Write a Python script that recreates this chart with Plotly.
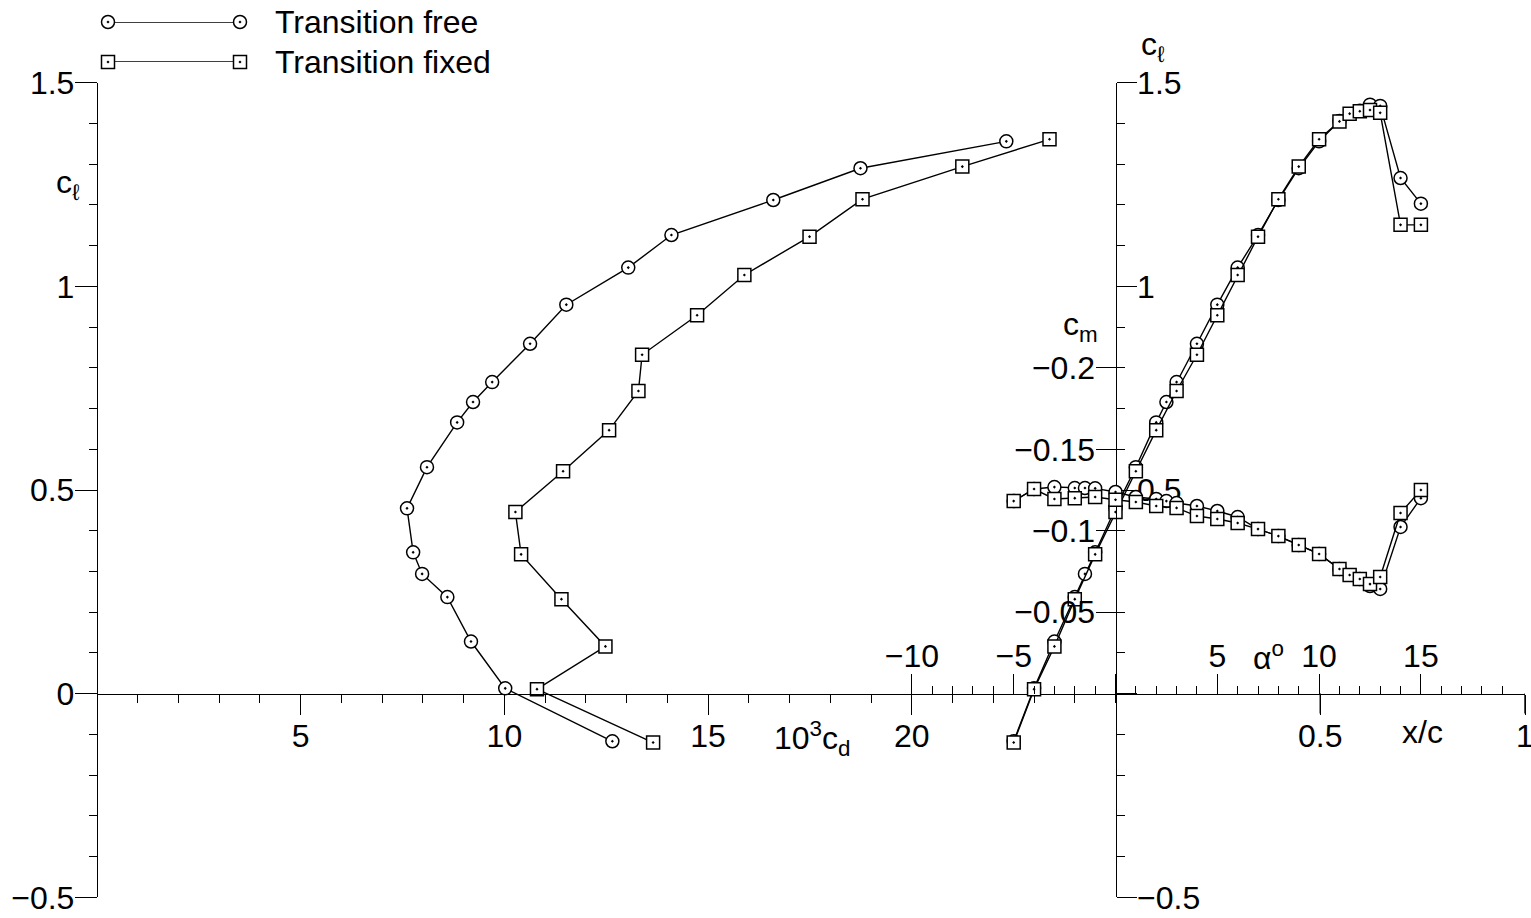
import plotly.graph_objects as go

# ---- measured section data -------------------------------------------------
# Transition free (natural transition)
alpha_free = [-5, -4, -3, -2, -1.5, -1, 0, 1, 2, 2.5, 3, 4, 5, 6, 7, 8, 9, 10,
              11, 12, 12.5, 13, 14, 15]
cl_free = [-0.117, 0.013, 0.128, 0.237, 0.294, 0.347, 0.455, 0.556, 0.666, 0.716,
           0.765, 0.859, 0.955, 1.046, 1.126, 1.212, 1.290, 1.356,
           1.406, 1.431, 1.446, 1.443, 1.266, 1.203]
cm_free = [-0.1182, -0.1256, -0.1268, -0.1262, -0.1262, -0.1260, -0.1238, -0.1207,
           -0.1195, -0.1182, -0.1170, -0.1152, -0.1121, -0.1084, -0.1010, -0.0967,
           -0.0912, -0.0857, -0.0765, -0.0703, -0.0660, -0.0642, -0.1023, -0.1200]
# drag polar (10^3 cd) measured for alpha = -5 ... 10
cd_free = [12.65, 10.02, 9.18, 8.60, 7.98, 7.76, 7.61, 8.10, 8.84, 9.23,
           9.70, 10.63, 11.52, 13.04, 14.10, 16.60, 18.74, 22.32]

# Transition fixed (trip strip)
alpha_fixed = [-5, -4, -3, -2, -1, 0, 1, 2, 3, 4, 5, 6, 7, 8, 9, 10,
               11, 11.5, 12, 12.5, 13, 14, 15]
cl_fixed = [-0.120, 0.011, 0.116, 0.232, 0.342, 0.446, 0.546, 0.647, 0.743, 0.832,
            0.929, 1.028, 1.122, 1.214, 1.294, 1.361,
            1.405, 1.424, 1.430, 1.433, 1.426, 1.151, 1.151]
cm_fixed = [-0.1182, -0.1256, -0.1195, -0.1200, -0.1207, -0.1190, -0.1176, -0.1152,
            -0.1140, -0.1090, -0.1072, -0.1047, -0.1010, -0.0967, -0.0912, -0.0857,
            -0.0765, -0.0728, -0.0703, -0.0672, -0.0716, -0.1109, -0.1250]
cd_fixed = [13.65, 10.80, 12.48, 11.40, 10.41, 10.27, 11.44, 12.57, 13.29, 13.38,
            14.73, 15.89, 17.49, 18.79, 21.24, 23.38]

# ---- axis tick labels ------------------------------------------------------
cl_ticks = [-0.5, 0, 0.5, 1, 1.5]
cl_left_text = ["\u22120.5", "0", "0.5", "1", "1.5"]
cl_right_text = ["\u22120.5", "", "0.5", "1", "1.5"]
cd_ticks = [5, 10, 15, 20]
cd_text = ["5", "10", "15", "20"]
alpha_ticks = [-10, -5, 0, 5, 10, 15]
alpha_text = ["\u221210", "\u22125", "", "5", "10", "15"]
cm_ticks = [-0.2, -0.15, -0.1, -0.05]
cm_text = ["\u22120.2", "\u22120.15", "\u22120.1", "\u22120.05"]
xc_ticks = [0.5, 1]
xc_text = ["0.5", "1"]

W, H = 1531, 918
FONT = "Liberation Sans, Arial, sans-serif"
FS = 32
INK = "black"


def fx(px):
    return px / W


def fy(py):
    return 1 - py / H


# frame geometry (pixels)
X_LEFT, X_MID, X_RIGHT = 97, 1115.5, 1525
Y_TOP, Y_ZERO, Y_BOT = 82.7, 693.5, 897.3
DEG = 20.36          # pixels per degree of alpha
CM_TOP = -0.225      # top of the cm scale
MAJOR_LEN = 20

sym = dict(free="circle-dot", fixed="square-dot")


def marker(kind):
    return dict(symbol=sym[kind], size=13, color="white",
                line=dict(color=INK, width=1.5))


line = dict(color=INK, width=1.4)
fig = go.Figure()

# drag polars
fig.add_trace(go.Scatter(x=cd_free, y=cl_free[:len(cd_free)], mode="lines+markers",
                         line=line, marker=marker("free"), xaxis="x", yaxis="y",
                         cliponaxis=False, showlegend=False))
fig.add_trace(go.Scatter(x=cd_fixed, y=cl_fixed[:len(cd_fixed)], mode="lines+markers",
                         line=line, marker=marker("fixed"), xaxis="x", yaxis="y",
                         cliponaxis=False, showlegend=False))
# lift curves
fig.add_trace(go.Scatter(x=alpha_free, y=cl_free, mode="lines+markers", line=line,
                         marker=marker("free"), xaxis="x2", yaxis="y2",
                         cliponaxis=False, showlegend=False))
fig.add_trace(go.Scatter(x=alpha_fixed, y=cl_fixed, mode="lines+markers", line=line,
                         marker=marker("fixed"), xaxis="x2", yaxis="y2",
                         cliponaxis=False, showlegend=False))
# pitching moment curves
fig.add_trace(go.Scatter(x=alpha_free, y=cm_free, mode="lines+markers", line=line,
                         marker=marker("free"), xaxis="x2", yaxis="y3",
                         cliponaxis=False, showlegend=False))
fig.add_trace(go.Scatter(x=alpha_fixed, y=cm_fixed, mode="lines+markers", line=line,
                         marker=marker("fixed"), xaxis="x2", yaxis="y3",
                         cliponaxis=False, showlegend=False))
# transparent placeholder so the chordwise x/c scale gets its own subplot
fig.add_trace(go.Scatter(x=xc_ticks, y=[0] * len(xc_ticks), mode="markers",
                         marker=dict(opacity=0, size=1), xaxis="x3", yaxis="y5",
                         showlegend=False, hoverinfo="skip"))

# key: one sample line per configuration, symbol at both ends
key_labels = ["Transition free", "Transition fixed"]
key_rows = [1, 0]
for kind, row in zip(["free", "fixed"], key_rows):
    fig.add_trace(go.Scatter(x=[0, 1], y=[row, row], mode="lines+markers", line=line,
                             marker=marker(kind), xaxis="x4", yaxis="y4",
                             cliponaxis=False, showlegend=False, hoverinfo="skip"))

tickfont = dict(family=FONT, size=FS, color=INK)
common = dict(showgrid=False, zeroline=False, automargin=False, tickfont=tickfont,
              linecolor=INK, tickcolor=INK, tickwidth=1.4, linewidth=1.4,
              tickmode="array", fixedrange=True, ticklabelstandoff=-6,
              ticklabeloverflow="allow")

fig.update_layout(
    width=W, height=H, autosize=False,
    margin=dict(l=0, r=0, t=0, b=0, pad=0),
    paper_bgcolor="white", plot_bgcolor="rgba(0,0,0,0)",
    font=dict(family=FONT, size=FS, color=INK),
    # 10^3 cd axis
    xaxis=dict(**common, domain=[fx(X_LEFT), fx(X_MID)], range=[0, 25],
               anchor="free", position=fy(Y_ZERO), side="bottom",
               showline=True, ticks="outside", ticklen=MAJOR_LEN,
               tickvals=cd_ticks, ticktext=cd_text,
               minor=dict(tickmode="linear", tick0=0, dtick=1, ticks="outside",
                          ticklen=8, tickcolor=INK, tickwidth=1.4)),
    # alpha axis (ticks upward)
    xaxis2=dict(**common, domain=[fx(X_MID - 10 * DEG), fx(X_MID + 19 * DEG)],
                range=[-10, 19], anchor="free", position=fy(Y_ZERO), side="top",
                showline=False, ticks="outside", ticklen=MAJOR_LEN,
                tickvals=alpha_ticks, ticktext=alpha_text,
                minor=dict(tickmode="linear", tick0=0, dtick=1, ticks="outside",
                           ticklen=8, tickcolor=INK, tickwidth=1.4)),
    # x/c axis, sitting on the bottom edge of a hidden helper scale
    xaxis3=dict(**common, domain=[fx(X_MID), fx(X_RIGHT)], range=[0, 1],
                anchor="y5", side="bottom",
                showline=True, ticks="outside", ticklen=MAJOR_LEN,
                tickvals=xc_ticks, ticktext=xc_text),
    yaxis5=dict(domain=[fy(Y_ZERO), fy(Y_TOP)], range=[0, 1], visible=False,
                anchor="x3", fixedrange=True),
    # key axes
    xaxis4=dict(domain=[fx(108), fx(240)], range=[0, 1], visible=False,
                anchor="y4", fixedrange=True),
    yaxis4=dict(domain=[fy(62), fy(22)], range=[0, 1], visible=False,
                anchor="x4", fixedrange=True),
    # cl (left)
    yaxis=dict(**common, domain=[fy(Y_BOT), fy(Y_TOP)], range=[-0.5, 1.5],
               anchor="free", position=fx(X_LEFT), side="left",
               showline=True, ticks="outside", ticklen=22,
               tickvals=cl_ticks, ticktext=cl_left_text,
               minor=dict(tickmode="linear", tick0=0, dtick=0.1, ticks="outside",
                          ticklen=8, tickcolor=INK, tickwidth=1.4)),
    # cl (right)
    yaxis2=dict(**common, domain=[fy(Y_BOT), fy(Y_TOP)], range=[-0.5, 1.5],
                anchor="free", position=fx(X_MID), side="right",
                showline=True, ticks="outside", ticklen=MAJOR_LEN,
                tickvals=cl_ticks, ticktext=cl_right_text,
                minor=dict(tickmode="linear", tick0=0, dtick=0.1, ticks="outside",
                           ticklen=8, tickcolor=INK, tickwidth=1.4)),
    # cm
    yaxis3=dict(**common, domain=[fy(Y_ZERO), fy(Y_ZERO - (-CM_TOP) * 1628)],
                range=[0, CM_TOP], anchor="free", position=fx(X_MID), side="left",
                showline=False, ticks="outside", ticklen=MAJOR_LEN,
                tickvals=cm_ticks, ticktext=cm_text),
)

# downward x/c tick marks at each labelled chord station
for v in xc_ticks:
    fig.add_shape(type="line", xref="x3", yref="paper", x0=v, x1=v,
                  y0=fy(Y_ZERO), y1=fy(Y_ZERO + MAJOR_LEN),
                  line=dict(color=INK, width=1.4))

ann = [
    dict(text="c<sub>\u2113</sub>", x=fx(68), y=fy(184)),
    dict(text="c<sub>\u2113</sub>", x=fx(1153), y=fy(46)),
    dict(text="c<sub>m</sub>", x=fx(1080), y=fy(326)),
    dict(text="10<sup>3</sup>c<sub>d</sub>", x=fx(812), y=fy(738)),
    dict(text="\u03b1<sup>o</sup>", x=fx(1268), y=fy(656)),
    dict(text="x/c", x=fx(1422), y=fy(732)),
]
for a in ann:
    fig.add_annotation(xref="paper", yref="paper", showarrow=False,
                       xanchor="center", yanchor="middle",
                       font=dict(family=FONT, size=FS, color=INK), **a)
for lab, py in zip(key_labels, [22, 62]):
    fig.add_annotation(xref="paper", yref="paper", x=fx(273), y=fy(py),
                       xanchor="left", yanchor="middle", text=lab, showarrow=False,
                       font=dict(family=FONT, size=FS, color=INK))

fig.write_html("out.html")
